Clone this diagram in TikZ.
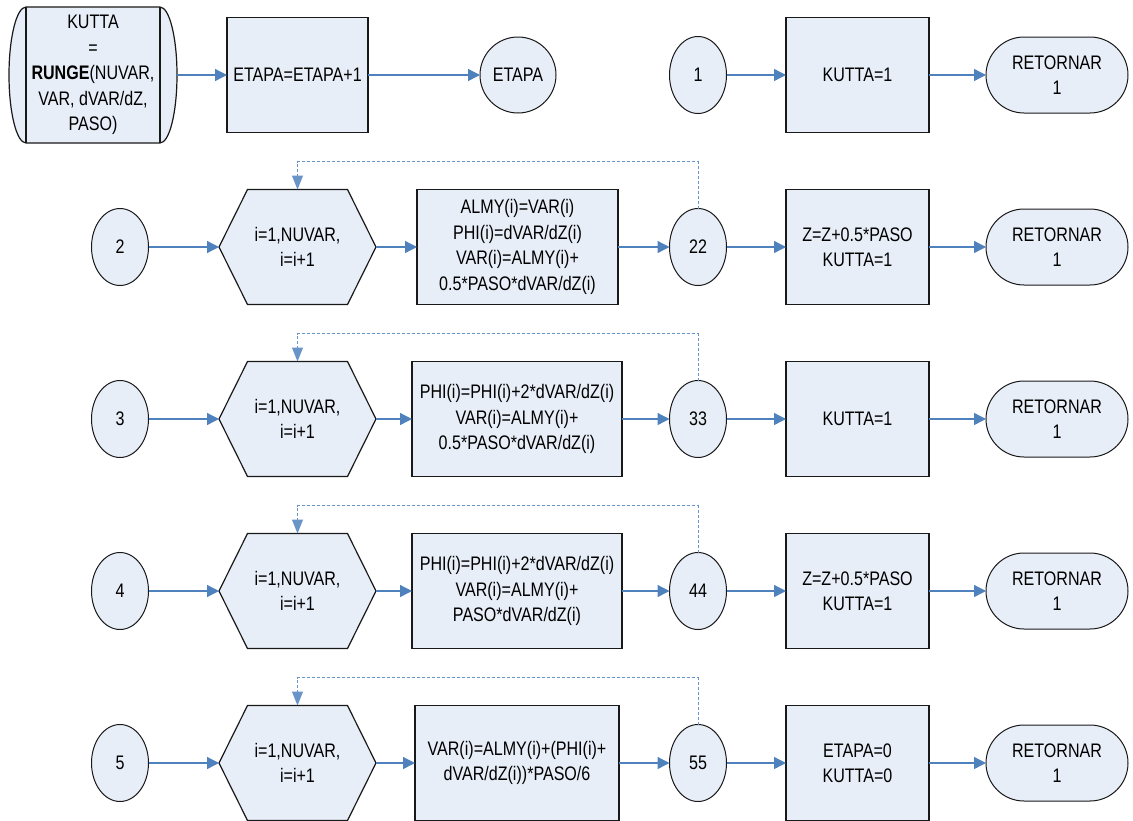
\documentclass[tikz,border=0pt]{standalone}
\usepackage{fontspec}
\setmainfont{Liberation Sans}[FakeStretch=0.82]
\usetikzlibrary{arrows.meta,shapes.geometric}
\definecolor{boxfill}{RGB}{232,238,248}
\definecolor{linkblue}{RGB}{79,129,189}
\definecolor{edge}{RGB}{25,25,25}
\begin{document}
\begin{tikzpicture}[x=1pt,y=-1pt,
  every node/.style={font=\fontsize{19.6}{25.5}\selectfont, align=center,
    inner sep=0pt, outer sep=0pt},
  outline/.style={draw=edge, fill=boxfill, line width=1.2pt},
  box/.style={outline, minimum height=115pt},
  conn/.style={outline, line width=1pt, ellipse, minimum width=57pt, minimum height=77pt},
  term/.style={outline, line width=1pt, rounded corners=38pt,
    minimum width=142pt, minimum height=76pt},
  flow/.style={draw=linkblue, line width=1.3pt, -{Triangle[length=12pt,width=12pt]}},
  loopback/.style={draw=linkblue!85, line width=1pt, dash pattern=on 3pt off 2pt,
    -{Triangle[length=14pt,width=11pt]}},
]
\useasboundingbox (0,0) rectangle (1133,820);

% --- subroutine entry: box with curved sides
\filldraw[outline] (26,7) -- (160,7)
  arc[start angle=90, end angle=-90, x radius=17pt, y radius=68pt]
  -- (26,143)
  arc[start angle=270, end angle=90, x radius=17pt, y radius=68pt] -- cycle;
\draw[edge, line width=1.2pt] (26,7) -- (26,143) (160,7) -- (160,143);
\node[minimum width=168pt, minimum height=136pt] (start) at (93,75)
  {KUTTA\\=\\\textbf{RUNGE}(NUVAR,\\VAR, dVAR/dZ,\\PASO)};

\node[box, minimum width=141pt] (inc) at (297.5,75) {ETAPA=ETAPA+1};
\node[conn, minimum width=76pt, minimum height=76pt] (etapa) at (518,75) {ETAPA};
\node[conn] (c1) at (698,75) {1};
\node[box, minimum width=143pt] (k1) at (857.5,75) {KUTTA=1};
\node[term] (t1) at (1057,75) {RETORNAR\\1};

\draw[flow] (start) -- (inc);
\draw[flow] (inc) -- (etapa);
\draw[flow] (c1) -- (k1);
\draw[flow] (k1) -- (t1);

% --- stages 2 to 5: loop over the variables, then return
\foreach \r/\y/\bw/\bx/\btext/\rtext in {
  2/247/201/517.5/{ALMY(i)=VAR(i)\\PHI(i)=dVAR/dZ(i)\\VAR(i)=ALMY(i)+\\0.5*PASO*dVAR/dZ(i)}/{Z=Z+0.5*PASO\\KUTTA=1},
  3/419/210/517/{PHI(i)=PHI(i)+2*dVAR/dZ(i)\\VAR(i)=ALMY(i)+\\0.5*PASO*dVAR/dZ(i)}/{KUTTA=1},
  4/591/210/517/{PHI(i)=PHI(i)+2*dVAR/dZ(i)\\VAR(i)=ALMY(i)+\\PASO*dVAR/dZ(i)}/{Z=Z+0.5*PASO\\KUTTA=1},
  5/763/204/517/{VAR(i)=ALMY(i)+(PHI(i)+\\dVAR/dZ(i))*PASO/6}/{ETAPA=0\\KUTTA=0}}
{
  \node[conn] (n\r) at (120,\y) {\r};
  % loop header hexagon
  \filldraw[outline] (219,\y) -- (247.5,{\y-57.5}) -- (347.5,{\y-57.5}) -- (376,\y)
    -- (347.5,{\y+57.5}) -- (247.5,{\y+57.5}) -- cycle;
  \node[minimum width=157pt, minimum height=115pt] (h\r) at (297.5,\y) {i=1,NUVAR,\\i=i+1};
  \node[box, minimum width=\bw pt] (b\r) at (\bx,\y) {\btext};
  \node[conn] (m\r) at (698,\y) {\r\r};
  \node[box, minimum width=143pt] (k\r) at (857.5,\y) {\rtext};
  \node[term] (t\r) at (1057,\y) {RETORNAR\\1};

  \draw[flow] (n\r) -- (h\r);
  \draw[flow] (h\r) -- (b\r);
  \draw[flow] (b\r) -- (m\r);
  \draw[flow] (m\r) -- (k\r);
  \draw[flow] (k\r) -- (t\r);
  \draw[loopback] (m\r.north) |- ([yshift=28pt]h\r.north) -- (h\r.north);
}
\end{tikzpicture}
\end{document}
